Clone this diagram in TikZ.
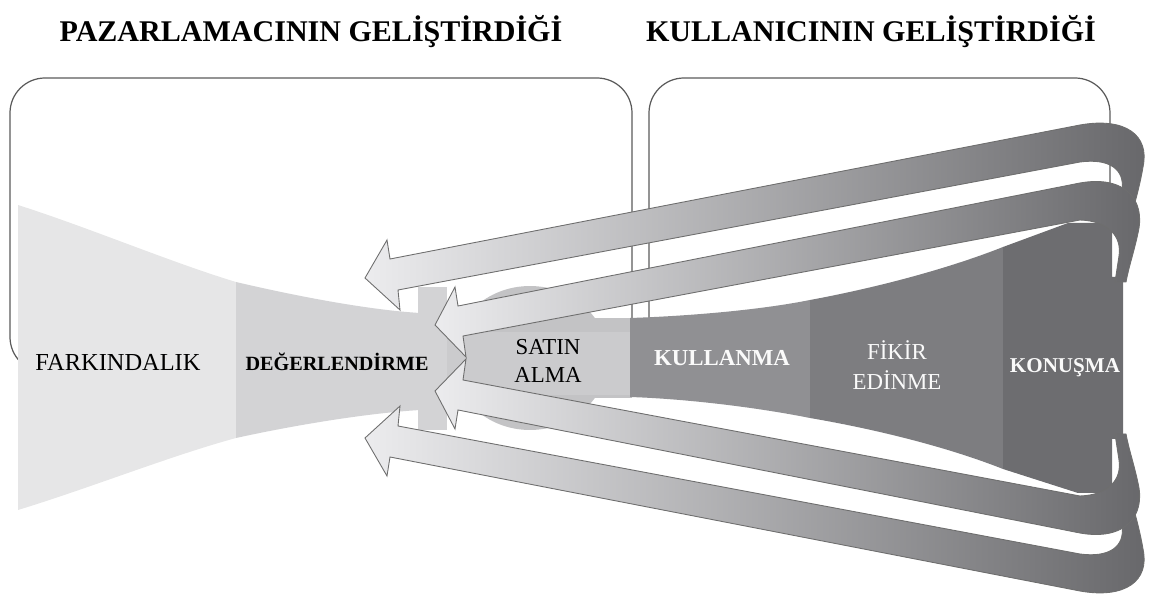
\documentclass[tikz,border=0pt]{standalone}
\usepackage{fontspec}
\setmainfont{Liberation Serif}

\definecolor{farkgray}{HTML}{E6E6E7}
\definecolor{deggray}{HTML}{D3D3D5}
\definecolor{satingray}{HTML}{CBCBCD}
\definecolor{ballgray}{HTML}{C3C3C5}
\definecolor{kullgray}{HTML}{909093}
\definecolor{fikirgray}{HTML}{7D7D80}
\definecolor{konugray}{HTML}{6D6D70}
\definecolor{bandlight}{HTML}{ECECEE}
\definecolor{banddark}{HTML}{67676A}
\definecolor{edgegray}{HTML}{6E6E6E}
\definecolor{boxgray}{HTML}{5A5A5A}

\tikzset{
  boxline/.style={draw=boxgray, line width=0.7pt, rounded corners=0.7cm},
  band/.style={left color=bandlight, right color=banddark, draw=edgegray, line width=0.5pt},
  headline/.style={font=\fontsize{17.1}{20}\selectfont\bfseries},
  darklabel/.style={text=black, align=center},
  lightlabel/.style={text=white!96!gray, align=center}
}

\begin{document}
\begin{tikzpicture}[x=0.02cm, y=-0.02cm]
    \useasboundingbox (0,0) rectangle (1154,594);

    % Titles
    \node[headline] (pazarlamaci) at (311,32) {PAZARLAMACININ GELİŞTİRDİĞİ};
    \node[headline] (kullanici) at (871,32) {KULLANICININ GELİŞTİRDİĞİ};

    % Rounded frames
    \draw[boxline] (10,78) rectangle (632,372);
    \draw[boxline] (649,78) rectangle (1110,372);

    % Funnel, left part
    \fill[farkgray] (18,205) .. controls (90,228) and (170,262) .. (236,282)
        -- (236,438) .. controls (170,456) and (90,488) .. (18,510) -- cycle;
    \fill[deggray] (236,282) .. controls (300,297) and (370,310) .. (420,313)
        -- (420,410) .. controls (370,413) and (300,424) .. (236,438) -- cycle;
    \fill[deggray] (418,287) rectangle (447,430);

    % Purchase
    \fill[ballgray] (530,358) ellipse [x radius=1.56cm, y radius=1.44cm];
    \fill[ballgray] (560,318) rectangle (632,398);
    \fill[satingray] (447,332) rectangle (632,395);

    % Funnel, right part
    \fill[kullgray] (630,318) .. controls (690,316) and (760,310) .. (810,300)
        -- (810,418) .. controls (760,408) and (690,399) .. (630,397) -- cycle;
    \fill[fikirgray] (810,300) .. controls (880,287) and (950,268) .. (1003,247)
        -- (1003,469) .. controls (950,448) and (880,430) .. (810,418) -- cycle;
    \fill[konugray] (1003,247) -- (1068,223) -- (1112,223) -- (1112,277)
        -- (1123,277) -- (1123,439) -- (1112,439) -- (1112,493)
        -- (1078,493) -- (1003,469) -- cycle;

    % Feedback loops (upper pair, then mirrored)
    \foreach \s in {1,-1} {
        \begin{scope}[shift={(0,358)}, yscale=\s, shift={(0,-358)}]
            \shadedraw[band] (365,278) -- (387,240) -- (390,259) -- (1080,125)
                .. controls (1125,117) and (1150,135) .. (1143,167)
                .. controls (1140,185) and (1136,198) .. (1130,222)
                -- (1116,222) -- (1122,190)
                .. controls (1125,170) and (1110,158) .. (1080,162)
                -- (398,290) -- (400,310) -- cycle;
            \shadedraw[band] (435,325) -- (455,287) -- (458,306) -- (1080,183)
                .. controls (1125,175) and (1146,200) .. (1138,233)
                .. controls (1134,252) and (1129,266) .. (1126,282)
                -- (1115,282) -- (1119,256)
                .. controls (1122,236) and (1108,221) .. (1080,220)
                -- (463,336) -- (466,357) -- cycle;
        \end{scope}
    }

    % Stage labels
    \node[darklabel, font=\fontsize{13.9}{16}\selectfont] (farkindalik) at (118,362) {FARKINDALIK};
    \node[darklabel, font=\fontsize{11.5}{14}\selectfont\bfseries] (degerlendirme) at (337,362) {DEĞERLENDİRME};
    \node[darklabel, font=\fontsize{13}{16}\selectfont] (satinalma) at (548,361) {SATIN\\ALMA};
    \node[lightlabel, font=\fontsize{13}{16}\selectfont\bfseries] (kullanma) at (722,358) {KULLANMA};
    \node[lightlabel, font=\fontsize{13}{17}\selectfont] (fikir) at (897,365) {FİKİR\\EDİNME};
    \node[lightlabel, font=\fontsize{12}{14}\selectfont\bfseries] (konusma) at (1065,368) {KONUŞMA};

\end{tikzpicture}
\end{document}
